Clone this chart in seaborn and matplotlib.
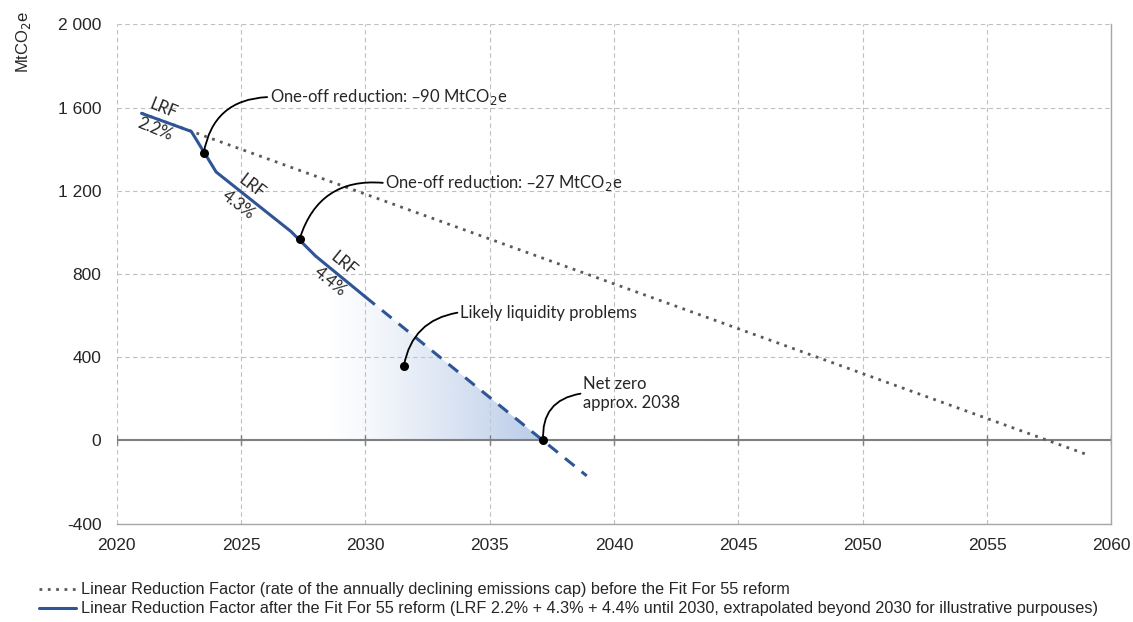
import matplotlib
matplotlib.use("Agg")
import matplotlib.pyplot as plt
import numpy as np
import pandas as pd
import seaborn as sns

# --- data --------------------------------------------------------------
old_years = [2021, 2059]
old_cap = [1572, -67]

new_years = [2021, 2023, 2024, 2027, 2028, 2030]
new_cap = [1572, 1485, 1290, 1005, 886, 690]

extrap_years = [2030, 2038.9]
extrap_cap = [690, -170]

x_ticks = [2020, 2025, 2030, 2035, 2040, 2045, 2050, 2055, 2060]
y_ticks = [-400, 0, 400, 800, 1200, 1600, 2000]
y_tick_labels = ["-400", "0", "400", "800", "1 200", "1 600", "2 000"]

dots = {
    "cut90": (2023.5, 1382),
    "cut27": (2027.36, 970),
    "liquidity": (2031.55, 360),
    "netzero": (2037.15, 0),
}

legend_old = "Linear Reduction Factor (rate of the annually declining emissions cap) before the Fit For 55 reform"
legend_new = ("Linear Reduction Factor after the Fit For 55 reform (LRF 2.2% + 4.3% + 4.4% until 2030, "
              "extrapolated beyond 2030 for illustrative purpouses)")

BLUE = "#2f5597"
GREY = "#595959"

sns.set_theme(style="white")
plt.rcParams["font.family"] = ["Liberation Sans", "DejaVu Sans"]
NOTE_FONT = ["Lato", "DejaVu Sans"]

fig = plt.figure(figsize=(11.33, 6.22), dpi=100)
ax = fig.add_axes([0.103, 0.158, 0.878, 0.803])

df_old = pd.DataFrame({"year": old_years, "cap": old_cap})
df_new = pd.DataFrame({"year": new_years, "cap": new_cap})
df_ext = pd.DataFrame({"year": extrap_years, "cap": extrap_cap})

# gradient shading under the extrapolated part (liquidity problems)
fx = np.array(new_years[-2:] + extrap_years[1:])
fy = np.array(new_cap[-2:] + extrap_cap[1:])
poly = ax.fill_between(fx, fy, 0, where=fy >= 0, interpolate=True,
                       color="none", linewidth=0)
grad = np.zeros((2, 256, 4))
grad[..., :3] = matplotlib.colors.to_rgb("#b9cbe8")
grad[..., 3] = np.linspace(0, 1, 256) ** 1.2
img = ax.imshow(grad, extent=[2028.4, 2037.1, 0, 800], aspect="auto",
                origin="lower", zorder=1, interpolation="bilinear")
img.set_clip_path(poly.get_paths()[0], transform=ax.transData)

sns.lineplot(data=df_old, x="year", y="cap", ax=ax, color=GREY,
             linestyle=(0, (1, 2)), linewidth=2, label=legend_old, zorder=3)
sns.lineplot(data=df_new, x="year", y="cap", ax=ax, color=BLUE,
             linewidth=2.2, label=legend_new, zorder=4)
sns.lineplot(data=df_ext, x="year", y="cap", ax=ax, color=BLUE,
             linewidth=2.2, linestyle=(0, (4, 3)), zorder=4, legend=False)

# zero axis with small tick marks
ax.axhline(0, color="#7f7f7f", linewidth=1.5, zorder=2)
ax.plot(x_ticks, [0] * len(x_ticks), linestyle="none", marker="|",
        markersize=7, color="#7f7f7f", zorder=2)

ax.set_xlim(2020, 2060)
ax.set_ylim(-400, 2000)
ax.set_xticks(x_ticks)
ax.set_yticks(y_ticks)
ax.set_yticklabels(y_tick_labels)
ax.tick_params(labelsize=12.5, length=0)
ax.tick_params(axis="y", pad=11)
ax.tick_params(axis="x", pad=10)
ax.set_xlabel("")
ax.set_ylabel("")
ax.grid(True, color="#bfbfbf", linestyle=(0, (4, 3)), linewidth=0.8)
for side in ["top", "left"]:
    ax.spines[side].set_visible(False)
for side in ["bottom", "right"]:
    ax.spines[side].set_color("#a6a6a6")
    ax.spines[side].set_linewidth(1)

fig.text(0.012, 0.932, "MtCO$_2$e", rotation=90, ha="left", va="center", fontsize=12)

# LRF labels: "LRF" above the line, rate below it
for (x, y, rot, pct) in [(2021.7, 1546, -22, "2.2%"),
                          (2025.15, 1176, -37, "4.3%"),
                          (2028.84, 806, -39, "4.4%")]:
    nx, ny = -np.sin(np.radians(rot)), np.cos(np.radians(rot))
    for sign, s in [(1, "LRF"), (-1, pct)]:
        ax.annotate(s, xy=(x, y), xytext=(sign * 11 * nx, sign * 11 * ny),
                    textcoords="offset pixels", rotation=rot,
                    rotation_mode="anchor", ha="center", va="center",
                    fontsize=12, family=NOTE_FONT, zorder=5)

# annotations with curved leaders from the text's left edge down to the dot
notes = [
    ("cut90", "One-off reduction: \u201390 MtCO$_2$e", (2026.05, 1650), 0.4),
    ("cut27", "One-off reduction: \u201327 MtCO$_2$e", (2030.7, 1238), 0.4),
    ("liquidity", "Likely liquidity problems", (2033.7, 614), 0.35),
    ("netzero", "Net zero\napprox. 2038", (2038.65, 225), 0.45),
]
for key, txt, pos, rad in notes:
    ax.scatter(*dots[key], s=30, color="black", zorder=6)
    ax.text(pos[0] + 0.1, pos[1], txt, ha="left", va="center",
            fontsize=12, family=NOTE_FONT, zorder=6)
    ax.annotate("", xy=dots[key], xytext=pos, zorder=6,
                arrowprops=dict(arrowstyle="-", color="black", lw=1.3,
                                connectionstyle=f"arc3,rad={rad}",
                                shrinkA=0, shrinkB=0))

ax.legend_.remove()
handles, labels = ax.get_legend_handles_labels()
fig.legend(handles, labels, loc="upper left", bbox_to_anchor=(0.027, 0.077),
           frameon=False, handlelength=2.3, handletextpad=0.3,
           labelspacing=0.25, borderpad=0,
           prop={"family": ["Liberation Sans", "DejaVu Sans"], "size": 11.7})

fig.savefig("out.png", dpi=100)
